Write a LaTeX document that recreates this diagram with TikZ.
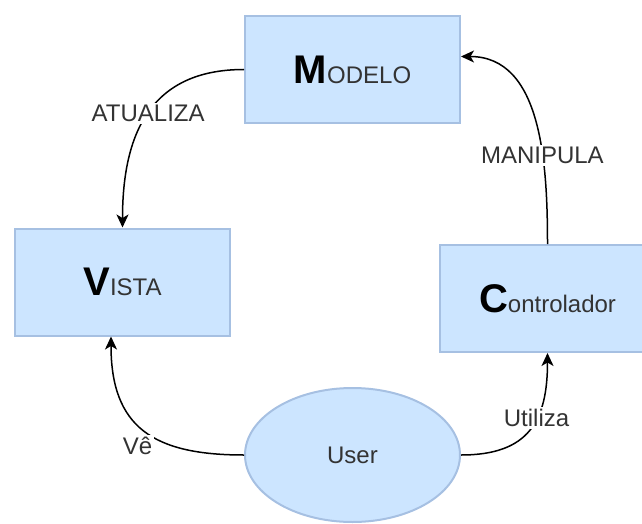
\documentclass[tikz,border=0pt]{standalone}
\usepackage{fontspec}
\setmainfont{Liberation Sans}
\usetikzlibrary{arrows.meta,calc,shapes.geometric}
\definecolor{caixa}{HTML}{CCE5FF}
\definecolor{borda}{HTML}{A6C0E2}
\definecolor{texto}{HTML}{333333}
\newcommand{\inicial}[1]{{\fontsize{40}{42}\selectfont\bfseries\color{black}#1}}
\begin{document}
\begin{tikzpicture}[x=1pt,y=1pt,
every node/.style={font=\fontsize{24}{28}\selectfont, text=texto},
bloco/.style={draw=borda, line width=2pt, fill=caixa, minimum width=215pt, minimum height=107pt, inner sep=0pt},
usuario/.style={ellipse, draw=borda, line width=2pt, fill=caixa, minimum width=215pt, minimum height=134pt, inner sep=0pt},
liga/.style={line width=1.5pt, -{Stealth[length=13pt,width=12pt,inset=3.5pt]}},
rotulo/.style={fill=white, inner sep=2pt},]
\useasboundingbox (0,0) rectangle (642,-524);
\begin{scope}
\clip (0,0) rectangle (642,-524);
\node[bloco] (modelo) at (352.5,-69.5) {\inicial{M}ODELO};
\node[bloco] (vista) at (122.5,-282) {\inicial{V}ISTA};
\node[bloco] (controlador) at (547.5,-298.5) {\inicial{C}ontrolador};
\node[usuario] (user) at (352.5,-455) {User};

\draw[liga] (modelo.west) to[out=180,in=90,looseness=1.2]
    node[rotulo,pos=0.5] {ATUALIZA} (vista.north);
\draw[liga] (controlador.north) to[out=90,in=0]
    node[rotulo,pos=0.35] {MANIPULA} ($(modelo.east)+(0,13)$);
\draw[liga] (user.west) to[out=180,in=-90,looseness=1.3]
    node[rotulo,pos=0.5,xshift=-6pt,yshift=-16pt] {Vê} ($(vista.south)+(-11.5,0)$);
\draw[liga] (user.east) to[out=0,in=-90,looseness=1.3]
    node[rotulo,pos=0.6] {Utiliza} (controlador.south);
\end{scope}
\end{tikzpicture}
\end{document}
